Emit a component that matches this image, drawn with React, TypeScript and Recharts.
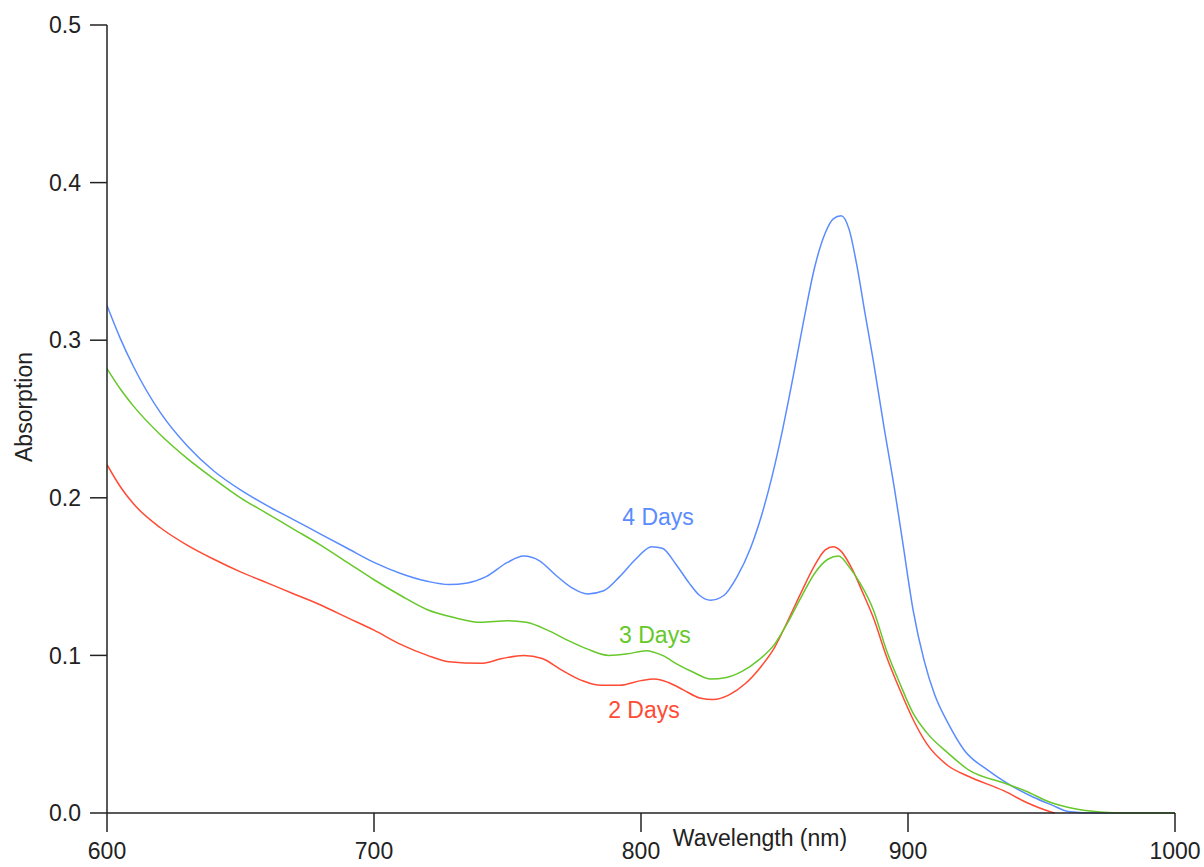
import React from 'react';
import { LineChart, Line, XAxis, YAxis, ReferenceDot, Label } from 'recharts';

const xTicks = [600, 700, 800, 900, 1000];
const yTicks = [0, 0.1, 0.2, 0.3, 0.4, 0.5];

const wl4 = [600, 605, 610, 620, 630, 640, 650, 660, 670, 680, 690, 700, 710, 720, 728, 735, 742, 750, 756, 762, 768, 774, 780, 786, 792, 798, 804, 808, 813, 818, 822, 826, 831, 836, 841, 845, 849, 853, 857, 861, 865, 869, 872, 875, 878, 881, 884, 887, 891, 895, 898, 902, 906, 910, 915, 921, 930, 938, 947, 954, 960, 970, 1000];
const abs4 = [0.322, 0.301, 0.283, 0.254, 0.233, 0.217, 0.205, 0.195, 0.186, 0.177, 0.168, 0.159, 0.152, 0.147, 0.145, 0.146, 0.150, 0.159, 0.163, 0.160, 0.151, 0.143, 0.139, 0.141, 0.150, 0.161, 0.169, 0.168, 0.158, 0.146, 0.138, 0.135, 0.138, 0.150, 0.168, 0.188, 0.213, 0.243, 0.277, 0.313, 0.346, 0.368, 0.377, 0.379, 0.370, 0.346, 0.316, 0.287, 0.245, 0.205, 0.172, 0.128, 0.097, 0.075, 0.057, 0.040, 0.027, 0.018, 0.010, 0.005, 0.001, 0, 0];

const wl3 = [600, 605, 610, 620, 630, 640, 650, 660, 670, 680, 690, 700, 710, 720, 730, 740, 750, 757, 765, 772, 780, 788, 795, 802, 808, 814, 820, 826, 832, 838, 844, 850, 855, 860, 865, 870, 874, 878, 882, 887, 892, 897, 902, 907, 915, 923, 936, 944, 953, 963, 973, 980, 1000];
const abs3 = [0.282, 0.269, 0.258, 0.240, 0.225, 0.212, 0.200, 0.190, 0.180, 0.170, 0.159, 0.148, 0.138, 0.129, 0.124, 0.121, 0.122, 0.121, 0.116, 0.110, 0.104, 0.100, 0.101, 0.103, 0.100, 0.094, 0.089, 0.085, 0.086, 0.090, 0.097, 0.107, 0.121, 0.137, 0.152, 0.161, 0.163, 0.156, 0.146, 0.129, 0.103, 0.082, 0.063, 0.051, 0.038, 0.027, 0.019, 0.014, 0.007, 0.0025, 0.0005, 0, 0];

const wl2 = [600, 605, 610, 620, 630, 640, 650, 660, 670, 680, 690, 700, 710, 720, 728, 740, 748, 756, 763, 770, 778, 785, 792, 800, 805, 810, 816, 822, 827, 833, 839, 845, 850, 855, 860, 865, 869, 872, 875, 879, 883, 887, 892, 897, 902, 907, 915, 923, 936, 944, 953, 955];
const abs2 = [0.221, 0.207, 0.196, 0.181, 0.170, 0.161, 0.153, 0.146, 0.139, 0.132, 0.124, 0.116, 0.107, 0.100, 0.096, 0.095, 0.098, 0.100, 0.098, 0.091, 0.084, 0.081, 0.081, 0.084, 0.085, 0.083, 0.078, 0.073, 0.072, 0.075, 0.082, 0.093, 0.105, 0.122, 0.140, 0.157, 0.167, 0.169, 0.166, 0.155, 0.140, 0.124, 0.099, 0.078, 0.059, 0.044, 0.030, 0.023, 0.014, 0.007, 0.001, 0];

const seriesNames = ['4 Days', '3 Days', '2 Days'];
const seriesColors = ['#5a8cff', '#66c82a', '#ff4a34'];
const labelX = [806.4, 805.2, 801.1];
const labelY = [0.1878, 0.113, 0.0654];

const toPoints = (xs: number[], ys: number[]) => xs.map((x, i) => ({ x, y: ys[i] }));
const d4 = toPoints(wl4, abs4);
const d3 = toPoints(wl3, abs3);
const d2 = toPoints(wl2, abs2);

const FONT = '"Liberation Sans", Arial, sans-serif';
const TXT = '#222';

export default function App() {
  return (
    <div style={{ position: 'absolute', left: 0, top: 0, background: '#fff' }}>
      <LineChart width={1204} height={867} margin={{ top: 25, right: 29, bottom: 0, left: 0 }}>
        <XAxis
          dataKey="x"
          type="number"
          domain={[600, 1000]}
          ticks={xTicks}
          allowDataOverflow
          height={54}
          tickSize={19}
          tickMargin={11}
          stroke={TXT}
          strokeWidth={1.5}
          tick={{ fill: TXT, fontSize: 23, fontFamily: FONT }}
        >
          <Label
            content={({ viewBox }: any) => (
              <text
                x={viewBox.x + 653}
                y={viewBox.y + 33}
                textAnchor="middle"
                fill={TXT}
                fontSize={23}
                fontFamily={FONT}
              >
                Wavelength (nm)
              </text>
            )}
          />
        </XAxis>
        <YAxis
          type="number"
          domain={[0, 0.5]}
          ticks={yTicks}
          width={107}
          tickSize={17}
          tickMargin={9}
          stroke={TXT}
          strokeWidth={1.5}
          tickFormatter={(v: number) => v.toFixed(1)}
          tick={{ fill: TXT, fontSize: 23, fontFamily: FONT }}
        >
          <Label
            content={({ viewBox }: any) => {
              const cx = 24;
              const cy = viewBox.y + 382;
              return (
                <text
                  x={cx}
                  y={cy}
                  textAnchor="middle"
                  dominantBaseline="central"
                  transform={`rotate(-90, ${cx}, ${cy})`}
                  fill={TXT}
                  fontSize={23}
                  fontFamily={FONT}
                >
                  Absorption
                </text>
              );
            }}
          />
        </YAxis>
        <Line data={d4} dataKey="y" type="monotone" stroke={seriesColors[0]} strokeWidth={1.5} dot={false} isAnimationActive={false} />
        <Line data={d2} dataKey="y" type="monotone" stroke={seriesColors[2]} strokeWidth={1.5} dot={false} isAnimationActive={false} />
        <Line data={d3} dataKey="y" type="monotone" stroke={seriesColors[1]} strokeWidth={1.5} dot={false} isAnimationActive={false} />
        {seriesNames.map((name, i) => (
          <ReferenceDot
            key={name}
            x={labelX[i]}
            y={labelY[i]}
            r={0}
            fill="none"
            stroke="none"
            label={{ value: name, position: 'center', fill: seriesColors[i], fontSize: 23, fontFamily: FONT }}
          />
        ))}
      </LineChart>
    </div>
  );
}
